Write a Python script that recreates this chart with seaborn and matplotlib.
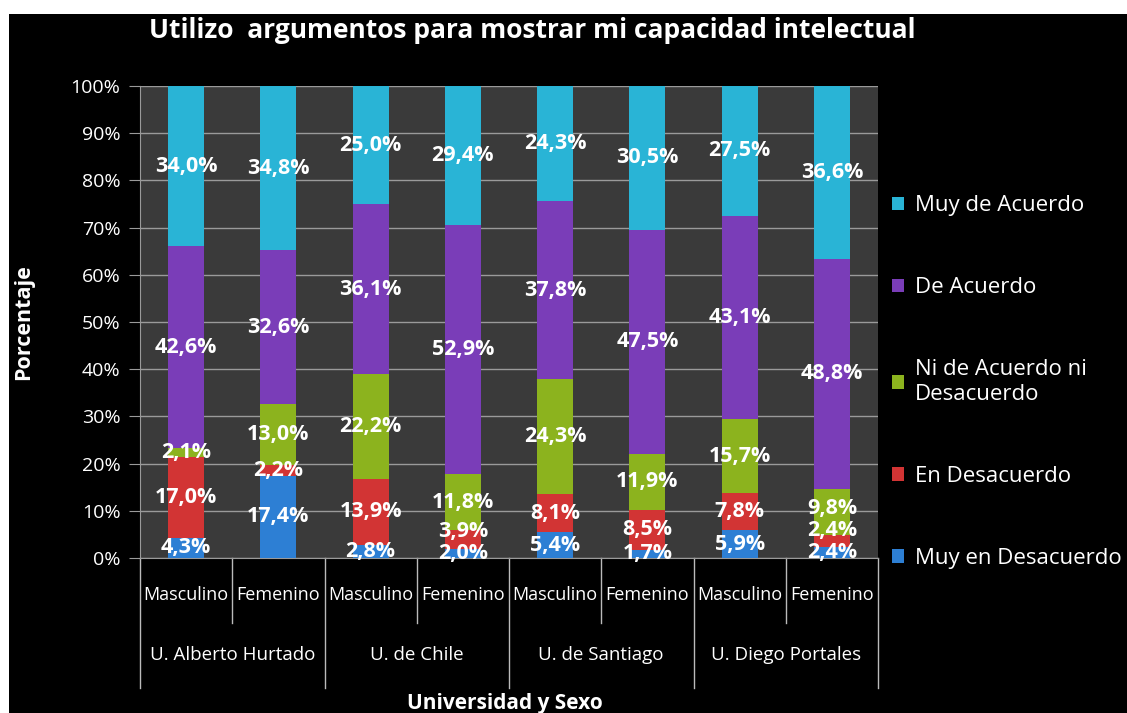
import numpy as np
import pandas as pd
import matplotlib
matplotlib.use("Agg")
import matplotlib.pyplot as plt
import seaborn as sns
from matplotlib.patches import Patch, Rectangle
import matplotlib.transforms as mtransforms

# ---------------- data ----------------
universities = ["U. Alberto Hurtado", "U. de Chile", "U. de Santiago", "U. Diego Portales"]
sexes = ["Masculino", "Femenino"]
categories = ["Muy en Desacuerdo", "En Desacuerdo", "Ni de Acuerdo ni\nDesacuerdo",
              "De Acuerdo", "Muy de Acuerdo"]
# one value per bar (UAH-M, UAH-F, UCh-M, UCh-F, USA-M, USA-F, UDP-M, UDP-F)
muy_en_desacuerdo = [4.3, 17.4, 2.8, 2.0, 5.4, 1.7, 5.9, 2.4]
en_desacuerdo     = [17.0, 2.2, 13.9, 3.9, 8.1, 8.5, 7.8, 2.4]
ni_ni             = [2.1, 13.0, 22.2, 11.8, 24.3, 11.9, 15.7, 9.8]
de_acuerdo        = [42.6, 32.6, 36.1, 52.9, 37.8, 47.5, 43.1, 48.8]
muy_de_acuerdo    = [34.0, 34.8, 25.0, 29.4, 24.3, 30.5, 27.5, 36.6]
colors = ["#2d7fd4", "#d23434", "#8cb31e", "#7a3db8", "#29b4d6"]

title = "Utilizo  argumentos para mostrar mi capacidad intelectual"
ylabel = "Porcentaje"
xlabel = "Universidad y Sexo"

series = [muy_en_desacuerdo, en_desacuerdo, ni_ni, de_acuerdo, muy_de_acuerdo]
bars = [f"{u}|{s}" for u in universities for s in sexes]
n = len(bars)

rows = []
for cat, vals in zip(categories, series):
    for b, v in zip(bars, vals):
        rows.append({"bar": b, "cat": cat, "value": v})
df = pd.DataFrame(rows)
df["cat"] = pd.Categorical(df["cat"], categories=categories, ordered=True)
df = df.sort_values(["bar", "cat"])
df["total"] = df.groupby("bar")["value"].transform("sum")
df["pct"] = df["value"] / df["total"] * 100
df["cum"] = df.groupby("bar")["pct"].cumsum()
df["mid"] = df["cum"] - df["pct"] / 2

# ---------------- figure ----------------
W, H = 1127, 713
fig = plt.figure(figsize=(W / 100, H / 100), dpi=100, facecolor="black")
# white border strips of the original screenshot
fig.patches.append(Rectangle((0, 1 - 14 / H), 1, 14 / H, transform=fig.transFigure,
                             facecolor="white", edgecolor="none", zorder=0))
fig.patches.append(Rectangle((0, 0), 9 / W, 1, transform=fig.transFigure,
                             facecolor="white", edgecolor="none", zorder=0))

left, right, top, bottom = 140, 878, 86, 558
ax = fig.add_axes([left / W, 1 - bottom / H, (right - left) / W, (bottom - top) / H])
ax.set_facecolor("#3a3a3a")

BODY = ["Open Sans", "DejaVu Sans"]

# stacked bars: draw cumulative heights from top category down
for cat, col in reversed(list(zip(categories, colors))):
    sub = df[df["cat"] == cat]
    sns.barplot(data=sub, x="bar", y="cum", order=bars, color=col, saturation=1,
                width=0.39, ax=ax, zorder=3, edgecolor="none")

# labels (centered in segment, nudged up only when they would collide)
MIN_GAP = 4.6
for i, b in enumerate(bars):
    sub = df[df["bar"] == b]
    prev = -100
    for _, r in sub.iterrows():
        y = max(r["mid"], prev + MIN_GAP)
        prev = y
        ax.text(i, y, f"{r['value']:.1f}%".replace(".", ","), ha="center",
                va="center", color="white", fontsize=15.5, fontweight="bold",
                family=BODY, zorder=5)

ax.set_ylim(0, 100)
ax.set_xlim(-0.5, n - 0.5)
ax.set_yticks(np.arange(0, 101, 10))
ax.set_yticklabels([f"{t}%" for t in range(0, 101, 10)], color="white",
                   fontsize=14, family=BODY)
ax.yaxis.grid(True, color="#9a9a9a", linewidth=1, zorder=1)
ax.set_axisbelow(True)
ax.tick_params(axis="y", length=8, color="#9a9a9a", pad=6)
ax.tick_params(axis="x", length=0, labelbottom=False)
ax.set_xlabel("")
ax.set_ylabel("")
for s in ["top", "right"]:
    ax.spines[s].set_visible(False)
ax.spines["left"].set_color("#9a9a9a")
ax.spines["bottom"].set_color("#9a9a9a")

# category axis with two levels
trans = mtransforms.blended_transform_factory(ax.transData, ax.transAxes)
short_y = -(623 - bottom) / (bottom - top)
long_y = -(688 - bottom) / (bottom - top)
for k in range(n + 1):
    xb = k - 0.5
    yend = long_y if k % 2 == 0 else short_y
    ax.plot([xb, xb], [0, yend], transform=trans, color="#bbbbbb", lw=1,
            clip_on=False, zorder=2)
for i, b in enumerate(bars):
    u, s = b.split("|")
    ax.text(i, -(595 - bottom) / (bottom - top), s, transform=trans, ha="center",
            va="center", color="white", fontsize=13, family=BODY)
for j, u in enumerate(universities):
    ax.text(2 * j + 0.5, -(655 - bottom) / (bottom - top), u, transform=trans,
            ha="center", va="center", color="white", fontsize=13.5, family=BODY)

fig.text(532 / W, 1 - 30 / H, title, ha="center", va="center", color="white",
         fontsize=19, fontweight="bold", family=BODY)
fig.text(24 / W, 1 - 322 / H, ylabel, ha="center", va="center", rotation=90,
         color="white", fontsize=15.5, fontweight="bold", family=BODY)
fig.text(505 / W, 1 - 704 / H, xlabel, ha="center", va="center", color="white",
         fontsize=15, fontweight="bold", family=BODY)

handles = [Patch(facecolor=c, edgecolor="none", label=l)
           for c, l in zip(colors, categories)][::-1]
leg = fig.legend(handles=handles, loc="center left",
                 bbox_to_anchor=(872 / W, 1 - 382 / H), frameon=False,
                 handlelength=0.55, handleheight=0.55, handletextpad=0.5,
                 labelspacing=2.75, prop={"family": BODY, "size": 16})
for t in leg.get_texts():
    t.set_color("white")

fig.savefig("out.png", dpi=100, facecolor="black")
